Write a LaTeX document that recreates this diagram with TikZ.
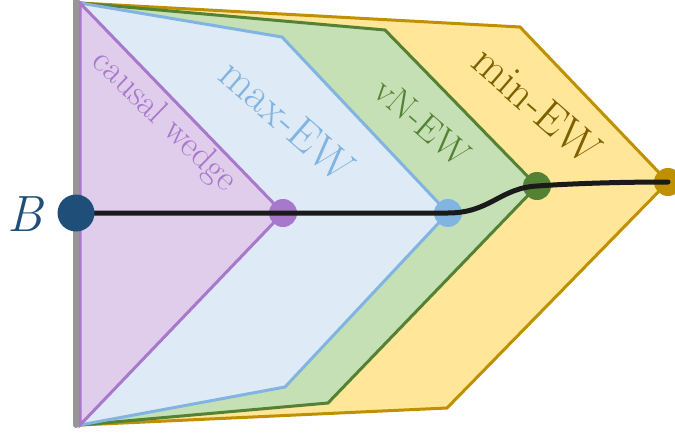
\documentclass[tikz,border=0pt]{standalone}
\usepackage{fontspec}
\definecolor{pfill}{HTML}{E0CCEB}
\definecolor{pline}{HTML}{A778CC}
\definecolor{bfill}{HTML}{DEEAF6}
\definecolor{bline}{HTML}{82B4E2}
\definecolor{gfill}{HTML}{C5E0B4}
\definecolor{gline}{HTML}{548235}
\definecolor{yfill}{HTML}{FFE699}
\definecolor{yline}{HTML}{BF9000}
\definecolor{ytext}{HTML}{7F6000}
\definecolor{bdot}{HTML}{1F4E79}
\definecolor{wallgray}{RGB}{150,150,150}
\definecolor{curveblack}{RGB}{26,26,26}
\tikzset{
  region/.style={line width=3pt, line join=miter},
  dot/.style={circle, inner sep=0pt, minimum size=28pt},
  label/.style={inner sep=0pt, anchor=center},
}
\begin{document}
\begin{tikzpicture}[x=1pt,y=-1pt]
\useasboundingbox (0,0) rectangle (675,434);
% regions
\draw[region, draw=yline, fill=yfill] (80,3) -- (520,27) -- (668,182) -- (447,408) -- (80,425) -- cycle;
\draw[region, draw=gline, fill=gfill] (80,3) -- (385,30) -- (537,186) -- (328,403) -- (80,425) -- cycle;
\draw[region, draw=bline, fill=bfill] (80,3) -- (282,37) -- (448,213) -- (285,387) -- (80,425) -- cycle;
\draw[region, draw=pline, fill=pfill] (80,3) -- (283,213) -- (80,425) -- cycle;
% boundary
\draw[wallgray, line width=6pt, line cap=round] (76,-5) -- (76,425);
% labels
\node[label, text=pline, rotate=-44, font=\fontsize{36}{40}\selectfont] (lc) at (164,122) {causal wedge};
\node[label, text=bline, rotate=-41, font=\fontsize{45}{50}\selectfont] (lm) at (287,120) {max-EW};
\node[label, text=gline, rotate=-41, font=\fontsize{37}{42}\selectfont] (lv) at (422,122) {vN-EW};
\node[label, text=ytext, rotate=-41, font=\fontsize{45}{50}\selectfont] (ln) at (537,105) {min-EW};
% dots
\node[dot, fill=pline] (pw) at (283,213) {};
\node[dot, fill=bline] (pb) at (448,213) {};
\node[dot, fill=gline] (pg) at (537,186) {};
\node[dot, fill=yline] (py) at (668,182) {};
% curve
\coordinate (Bc) at (76,213);
\draw[curveblack, line width=5pt, line cap=round] (Bc) -- (pw.center) -- (pb.center)
  .. controls (490,213) and (500,188) .. (pg.center)
  .. controls (580,183) and (630,182) .. (py.center);
\node[dot, fill=bdot, minimum size=37pt] (B) at (Bc) {};
\node[text=bdot, font=\fontsize{51}{56}\selectfont\itshape, inner sep=0pt] (Bl) at (25,214) {B};
\end{tikzpicture}
\end{document}
